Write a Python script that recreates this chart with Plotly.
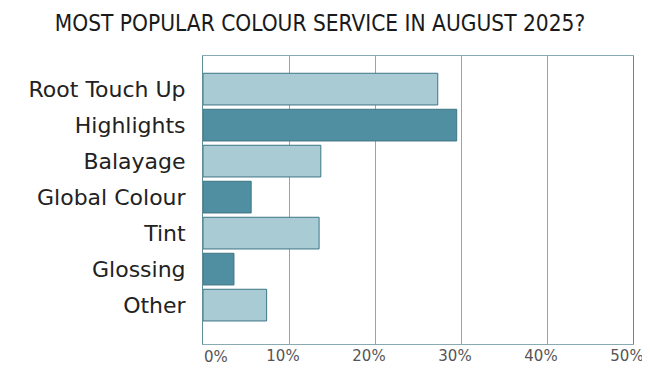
import plotly.graph_objects as go

categories = ["Root Touch Up", "Highlights", "Balayage", "Global Colour", "Tint", "Glossing", "Other"]
values = [27.3, 29.5, 13.7, 5.6, 13.5, 3.6, 7.4]
tick_vals = [0, 10, 20, 30, 40, 50]
tick_text = ["0%", "10%", "20%", "30%", "40%", "50%"]

light = "#a9cbd3"
dark = "#4f8fa1"
colors = [light if i % 2 == 0 else dark for i in range(len(categories))]

fig = go.Figure(go.Bar(
    y=categories, x=values, orientation="h",
    marker=dict(color=colors, line=dict(color="#3f7684", width=1)),
    width=0.88,
))

grid = "#88aab2"
tick_font = dict(family="DejaVu Sans", size=15, color="#555555")
fig.update_layout(
    width=642, height=375,
    margin=dict(l=195, r=17, t=48, b=39, autoexpand=False),
    paper_bgcolor="white", plot_bgcolor="white",
    showlegend=False,
    title=dict(text="MOST POPULAR COLOUR SERVICE IN AUGUST 2025?",
               x=0.486, xanchor="center", y=0.96, yanchor="middle",
               font=dict(family="DejaVu Sans Condensed, Roboto", size=22.5, color="#1a1a1a")),
    xaxis=dict(range=[0, 50], tickvals=tick_vals,
               ticktext=[""] + tick_text[1:],
               showgrid=True, gridcolor=grid, gridwidth=1,
               showline=True, linecolor=grid, linewidth=1, mirror=True,
               zeroline=False, ticks="", ticklen=0, automargin=False,
               ticklabelstandoff=-2, ticklabelshift=-6,
               tickfont=tick_font),
    yaxis=dict(range=[7.08, -0.92], showgrid=False, showline=True,
               linecolor="#5f8c97", linewidth=1, mirror=True, ticks="",
               ticklabelstandoff=12, automargin=False,
               tickfont=dict(family="DejaVu Sans", size=22, color="#222222")),
)
fig.add_annotation(x=tick_vals[0], xref="x", y=0, yref="paper",
                   text=tick_text[0], showarrow=False,
                   xanchor="left", yanchor="top", yshift=-2, xshift=-1,
                   font=tick_font)
fig.write_html("out.html")
